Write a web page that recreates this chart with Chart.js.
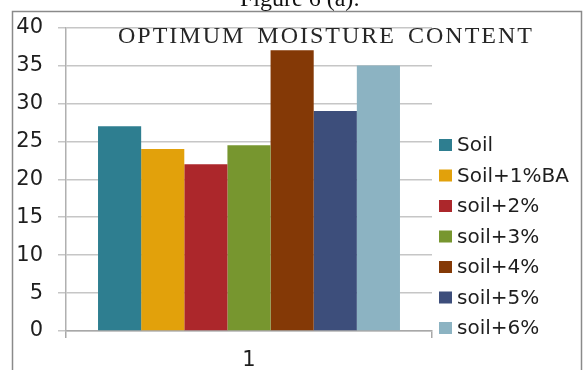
<!DOCTYPE html>
<html>
<head>
<meta charset="utf-8">
<script src="https://cdn.jsdelivr.net/npm/chart.js@4/dist/chart.umd.min.js"></script>
<style>
  html, body { margin: 0; padding: 0; background: #ffffff; }
  #wrap { width: 585px; height: 370px; position: relative; }
</style>
</head>
<body>
<div id="wrap"><canvas id="chart" width="585" height="370"></canvas></div>
<script>
// Optimum moisture content (%) for soil with bagasse ash additions
const categories = ['1'];
const seriesLabels = ['Soil', 'Soil+1%BA', 'soil+2%', 'soil+3%', 'soil+4%', 'soil+5%', 'soil+6%'];
const seriesValues = [27, 24, 22, 24.5, 37, 29, 35];
const seriesColors = ['#2e7e90', '#e2a10b', '#ac272b', '#77962f', '#843906', '#3d4e7b', '#8cb3c2'];
const yMin = 0, yMax = 40, yStep = 5;
const chartTitle = 'OPTIMUM MOISTURE CONTENT';
const figureCaption = 'Figure 6 (a):';

const AXIS_FONT = "'DejaVu Sans', sans-serif";
const SERIF_FONT = "'Liberation Serif', 'Times New Roman', serif";
const TEXT_COLOR = '#1e1e1e';

// Page frame, caption above the frame and the chart title over the plot
const framePlugin = {
  id: 'frame',
  beforeDraw(chart) {
    const ctx = chart.ctx;
    ctx.save();
    ctx.fillStyle = '#ffffff';
    ctx.fillRect(0, 0, chart.width, chart.height);
    ctx.strokeStyle = '#8a8a8a';
    ctx.lineWidth = 1.5;
    ctx.strokeRect(12.5, 11.5, 569, 380);
    ctx.fillStyle = '#111111';
    ctx.font = '24px ' + SERIF_FONT;
    ctx.textAlign = 'center';
    ctx.textBaseline = 'alphabetic';
    ctx.fillText(figureCaption, 300, 6);
    ctx.restore();
  },
  afterDraw(chart) {
    const ctx = chart.ctx;
    ctx.save();
    ctx.fillStyle = '#262626';
    ctx.font = '24px ' + SERIF_FONT;
    ctx.letterSpacing = '2px';
    ctx.wordSpacing = '4px';
    ctx.textAlign = 'left';
    ctx.textBaseline = 'alphabetic';
    ctx.fillText(chartTitle, 118, 43);
    ctx.restore();
  }
};

// Legend column to the right of the plot, built from the datasets
const sideLegend = {
  id: 'sideLegend',
  afterDraw(chart) {
    const ctx = chart.ctx;
    ctx.save();
    ctx.font = '20px ' + AXIS_FONT;
    ctx.textBaseline = 'middle';
    ctx.textAlign = 'left';
    chart.data.datasets.forEach((ds, i) => {
      const cy = 145 + i * 30.5;
      ctx.fillStyle = ds.backgroundColor;
      ctx.fillRect(439, cy - 6, 13, 12);
      ctx.fillStyle = TEXT_COLOR;
      ctx.fillText(ds.label, 457, cy + 1);
    });
    ctx.restore();
  }
};

const datasets = seriesLabels.map((label, i) => ({
  label: label,
  data: [seriesValues[i]],
  backgroundColor: seriesColors[i],
  borderWidth: 0,
  barPercentage: 1.0,
  categoryPercentage: 0.825
}));

new Chart(document.getElementById('chart'), {
  type: 'bar',
  data: { labels: categories, datasets: datasets },
  options: {
    responsive: false,
    animation: false,
    devicePixelRatio: 1,
    layout: { padding: { left: 0, right: 153, top: 25, bottom: 0 } },
    plugins: {
      legend: { display: false },
      title: { display: false },
      tooltip: { enabled: false }
    },
    scales: {
      x: {
        offset: true,
        grid: {
          offset: true,
          drawOnChartArea: false,
          drawTicks: true,
          tickLength: 7,
          color: '#a8a8a8',
          lineWidth: 1.5
        },
        border: { display: true, color: '#a8a8a8', width: 1.5 },
        ticks: {
          color: TEXT_COLOR,
          font: { family: AXIS_FONT, size: 21 },
          padding: 10
        },
        afterFit(scale) { scale.height = 39; }
      },
      y: {
        min: yMin,
        max: yMax,
        ticks: {
          stepSize: yStep,
          color: TEXT_COLOR,
          font: { family: AXIS_FONT, size: 21 },
          padding: 15
        },
        grid: {
          color: '#c6c6c6',
          lineWidth: 1.5,
          tickLength: 8
        },
        border: { display: true, color: '#b0b0b0', width: 1.5 },
        afterFit(scale) { scale.width = 66; }
      }
    }
  },
  plugins: [framePlugin, sideLegend]
});
</script>
</body>
</html>
